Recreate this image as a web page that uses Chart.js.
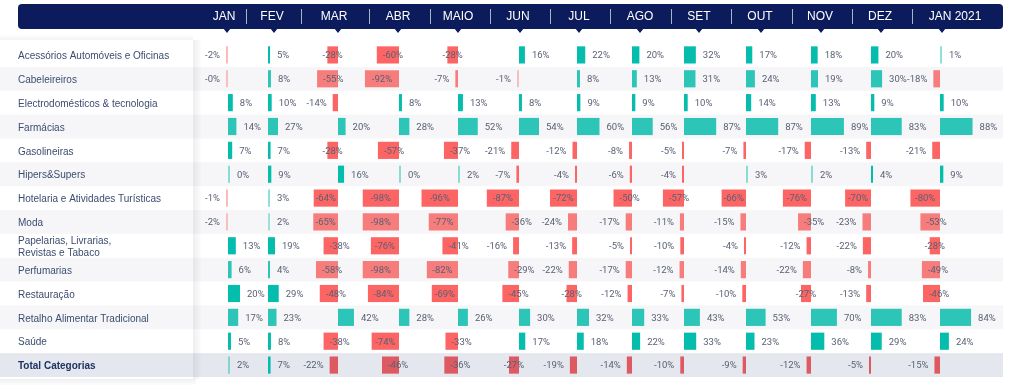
<!DOCTYPE html>
<html>
<head>
<meta charset="utf-8">
<script src="https://cdn.jsdelivr.net/npm/chart.js@4.4.1/dist/chart.umd.min.js"></script>
<style>
  html, body { margin: 0; padding: 0; background: #fff; }
  canvas { display: block; }
</style>
</head>
<body>
<canvas id="chart" width="1024" height="385"></canvas>
<script>
const categories = ['Acessórios Automóveis e Oficinas', 'Cabeleireiros', 'Electrodomésticos & tecnologia', 'Farmácias',
  'Gasolineiras', 'Hipers&Supers', 'Hotelaria e Atividades Turísticas', 'Moda', ['Papelarias, Livrarias,', 'Revistas e Tabaco'],
  'Perfumarias', 'Restauração', 'Retalho Alimentar Tradicional', 'Saúde', 'Total Categorias'];
const months = ['JAN', 'FEV', 'MAR', 'ABR', 'MAIO', 'JUN', 'JUL', 'AGO', 'SET', 'OUT', 'NOV', 'DEZ', 'JAN 2021'];

// variação por categoria (%), uma lista por mês, pela ordem de categories
const jan     = [-2, -0.3, 8, 14, 7, 0.3, -1, -2, 13, 6, 20, 17, 5, 2];
const fev     = [5, 8, 10, 27, 7, 9, 3, 2, 19, 4, 29, 23, 8, 7];
const mar     = [-28, -55, -14, 20, -28, 16, -64, -65, -38, -58, -48, 42, -38, -22];
const abr     = [-60, -92, 8, 28, -57, 0.3, -98, -98, -76, -98, -84, 28, -74, -46];
const maio    = [-28, -7, 13, 52, -37, 2, -96, -77, -41, -82, -69, 26, -33, -36];
const jun     = [16, -1, 8, 54, -21, -7, -87, -36, -16, -29, -45, 30, 17, -27];
const jul     = [22, 8, 9, 60, -12, -4, -72, -24, -13, -22, -28, 32, 18, -19];
const ago     = [20, 13, 9, 56, -8, -6, -50, -17, -5, -17, -12, 33, 22, -14];
const set     = [32, 31, 10, 87, -5, -4, -57, -11, -10, -12, -7, 43, 33, -10];
const out     = [17, 24, 14, 87, -7, 3, -66, -15, -4, -14, -10, 53, 23, -9];
const nov     = [18, 19, 13, 89, -17, 2, -76, -35, -12, -22, -27, 70, 36, -12];
const dez     = [20, 30, 9, 83, -13, 4, -70, -23, -22, -8, -13, 83, 29, -5];
const jan2021 = [1, -18, 10, 88, -21, 9, -80, -53, -28, -49, -46, 84, 24, -15];
const series = [jan, fev, mar, abr, maio, jun, jul, ago, set, out, nov, dez, jan2021];

// layout
const PLOT_L = 218, PLOT_R = 1024;
const colBase = [228, 268, 338, 399, 458, 519, 577, 632, 684, 746, 811, 871, 940];
const colScale = [0.6, 0.37, 0.38, 0.37, 0.38, 0.37, 0.375, 0.37, 0.37, 0.37, 0.37, 0.37, 0.37];
const headX = [224, 272, 334, 398, 458, 518, 579, 640, 699, 760, 820, 880, 955];
const sepX = [246, 301, 369, 430, 490, 550, 610, 671, 731, 792, 852, 912];
const arrowX = [227, 274, 338, 398, 458, 520, 579, 640, 699, 761, 821, 881, 942];
const rowTone = ['s', 'l', 's', 'l', 's', 's', 's', 'l', 's', 'l', 's', 'l', 's', 't'];

const palette = {
  s: { pos: '4,189,172', neg: '253,101,101' },
  l: { pos: '44,197,184', neg: '247,124,124' },
  t: { pos: '4,189,172', neg: '222,90,99' }
};

function barColor(v, row) {
  const tone = palette[rowTone[row]];
  const a = Math.abs(v) <= 3 ? 0.45 : 1;
  return 'rgba(' + (v < 0 ? tone.neg : tone.pos) + ',' + a + ')';
}

function fmt(v) {
  return (v < 0 ? '-' + Math.abs(Math.round(v)) : Math.round(v)) + '%';
}

const scales = {
  y: {
    type: 'category',
    grid: { display: false },
    border: { display: false },
    ticks: {
      autoSkip: false,
      crossAlign: 'far',
      padding: 0,
      labelOffset: 1.5,
      color: c => c.index === 13 ? '#1d3461' : '#3c4d70',
      font: c => ({ family: '"Liberation Sans", Arial, sans-serif', size: 10, weight: c.index === 13 ? 'bold' : 'normal', lineHeight: 1.15 })
    },
    afterFit(scale) { scale.width = PLOT_L - 18; }
  }
};
months.forEach((m, i) => {
  scales['x' + i] = {
    type: 'linear',
    display: false,
    min: -(colBase[i] - PLOT_L) / colScale[i],
    max: (PLOT_R - colBase[i]) / colScale[i]
  };
});

const backdrop = {
  id: 'backdrop',
  beforeDraw(chart) {
    const { ctx, chartArea, scales: { y } } = chart;
    const h = (chartArea.bottom - chartArea.top) / categories.length;
    ctx.save();
    categories.forEach((c, j) => {
      if (j % 2 === 0 && j !== 13) return;
      ctx.fillStyle = j === 13 ? '#e5e7ee' : '#f6f6f8';
      ctx.fillRect(0, y.getPixelForValue(j) - h / 2, 1003, h);
    });
    // sombra do painel das categorias
    let g = ctx.createLinearGradient(193, 0, 202, 0);
    g.addColorStop(0, 'rgba(30,40,70,0.08)');
    g.addColorStop(1, 'rgba(30,40,70,0)');
    ctx.fillStyle = g;
    ctx.fillRect(193, 40, 9, 339);
    g = ctx.createLinearGradient(0, 379, 0, 386);
    g.addColorStop(0, 'rgba(30,40,70,0.07)');
    g.addColorStop(1, 'rgba(30,40,70,0)');
    ctx.fillStyle = g;
    ctx.fillRect(0, 379, 196, 7);
    g = ctx.createLinearGradient(0, 40, 0, 34);
    g.addColorStop(0, 'rgba(30,40,70,0.05)');
    g.addColorStop(1, 'rgba(30,40,70,0)');
    ctx.fillStyle = g;
    ctx.fillRect(0, 34, 193, 6);
    ctx.restore();
  }
};

const header = {
  id: 'header',
  afterDraw(chart) {
    const ctx = chart.ctx;
    ctx.save();
    ctx.fillStyle = '#0c1b5c';
    ctx.beginPath();
    ctx.roundRect(18, 4, 985, 25, 4);
    ctx.fill();
    ctx.beginPath();
    arrowX.forEach(x => {
      ctx.moveTo(x - 4, 28);
      ctx.lineTo(x + 4, 28);
      ctx.lineTo(x, 33);
      ctx.closePath();
    });
    ctx.fill();
    ctx.strokeStyle = 'rgba(210,215,230,0.8)';
    ctx.lineWidth = 1;
    sepX.forEach(x => {
      ctx.beginPath();
      ctx.moveTo(x + 0.5, 9);
      ctx.lineTo(x + 0.5, 24);
      ctx.stroke();
    });
    ctx.fillStyle = '#ffffff';
    ctx.font = '12px "Liberation Sans", Arial, sans-serif';
    ctx.textAlign = 'center';
    ctx.textBaseline = 'middle';
    months.forEach((m, i) => ctx.fillText(m, headX[i], 17));
    ctx.restore();
  }
};

const valueLabels = {
  id: 'valueLabels',
  afterDatasetsDraw(chart) {
    const ctx = chart.ctx;
    ctx.save();
    ctx.font = '9.5px Roboto, sans-serif';
    ctx.fillStyle = '#596174';
    ctx.textBaseline = 'middle';
    chart.data.datasets.forEach((ds, i) => {
      chart.getDatasetMeta(i).data.forEach((bar, j) => {
        const v = ds.data[j];
        const txt = fmt(v);
        const tw = ctx.measureText(txt).width;
        const y = bar.y + 1;
        const left = Math.min(bar.x, bar.base);
        const right = Math.max(bar.x, bar.base);
        const w = right - left;
        if (v >= 0) {
          ctx.textAlign = 'left';
          ctx.fillText(txt, right + 7, y);
        } else if (Math.abs(v) < 27) {
          ctx.textAlign = 'right';
          ctx.fillText(txt, left - 6, y);
        } else if (Math.abs(v) < 29 || w >= tw + 3) {
          ctx.textAlign = 'center';
          ctx.fillText(txt, left + w / 2, y);
        } else {
          ctx.textAlign = 'left';
          ctx.fillText(txt, left + 6, y);
        }
      });
    });
    ctx.restore();
  }
};

new Chart(document.getElementById('chart').getContext('2d'), {
  type: 'bar',
  data: {
    labels: categories,
    datasets: series.map((vals, i) => ({
      label: months[i],
      data: vals,
      xAxisID: 'x' + i,
      grouped: false,
      barPercentage: 1,
      categoryPercentage: 0.72,
      minBarLength: 2,
      borderWidth: 0,
      backgroundColor: c => barColor(vals[c.dataIndex], c.dataIndex)
    }))
  },
  options: {
    indexAxis: 'y',
    responsive: false,
    animation: false,
    layout: { padding: { left: 18, right: 0, top: 43, bottom: 8 } },
    scales: scales,
    plugins: {
      legend: { display: false },
      tooltip: { enabled: false }
    }
  },
  plugins: [backdrop, valueLabels, header]
});
</script>
</body>
</html>
